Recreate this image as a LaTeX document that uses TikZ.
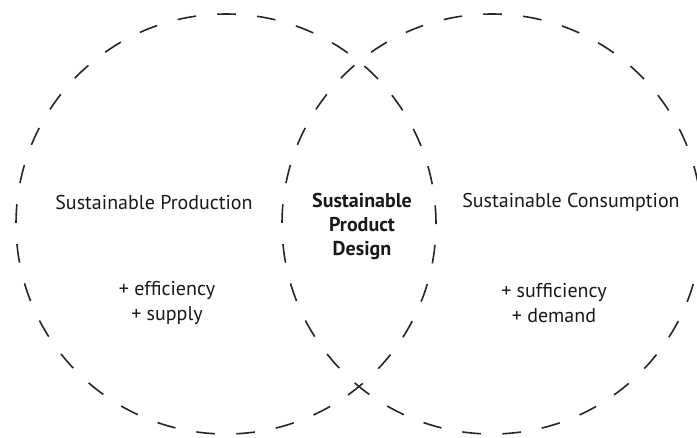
\documentclass[tikz,border=0pt]{standalone}
\usepackage{fontspec}
\setmainfont{PT Sans}
\begin{document}
\begin{tikzpicture}[x=0.75pt,y=-0.75pt,
  ring/.style={draw=black!85, line width=1.2pt, dash pattern=on 14pt off 16pt},
  label/.style={text=black!90, font=\fontsize{15}{19}\selectfont, align=center, inner sep=0pt},
  core/.style={label, font=\fontsize{15}{18}\selectfont\bfseries}]
\useasboundingbox (0,0) rectangle (697,437);
\clip (0,0) rectangle (697,437);
% the two overlapping fields
\draw[ring] (226,224) circle[radius=157.5pt];
\draw[ring] (492,224) circle[radius=157.5pt];
% field titles
\node[label] (prod) at (154,202) {Sustainable Production};
\node[label] (cons) at (571,202) {Sustainable Consumption};
% shared area
\node[core] (spd) at (362,226) {Sustainable\\Product\\Design};
% attributes of each field
\node[label] (eff) at (167,303) {+ efficiency\\+ supply};
\node[label] (suf) at (554,303) {+ sufficiency\\+ demand};
\end{tikzpicture}
\end{document}
